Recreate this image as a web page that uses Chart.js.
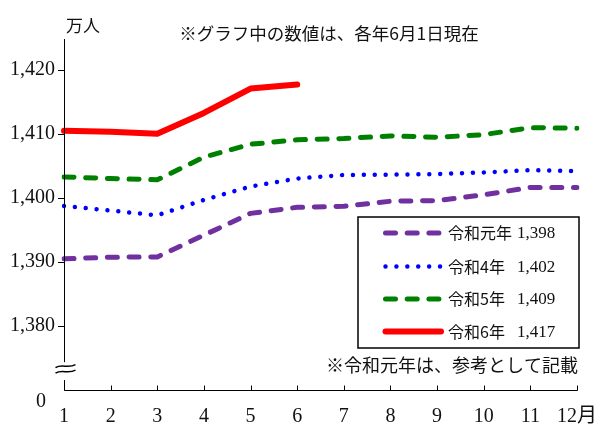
<!DOCTYPE html>
<html><head><meta charset="utf-8">
<script src="https://cdn.jsdelivr.net/npm/chart.js@4"></script>
<style>html,body{margin:0;padding:0;background:#fff}canvas{display:block}</style>
</head><body>
<canvas id="c" width="600" height="433"></canvas>
<script>
// ---- data ----
const months = ['1','2','3','4','5','6','7','8','9','10','11','12月'];
const seriesNames = ['令和元年','令和4年','令和5年','令和6年'];
const legendValues = ['1,398','1,402','1,409','1,417'];
const reiwa1 = [1390.5, 1390.75, 1390.8, 1394.2, 1397.6, 1398.55, 1398.7, 1399.5, 1399.6, 1400.5, 1401.65, 1401.65];
const reiwa4 = [1398.75, 1398.05, 1397.3, 1399.7, 1401.8, 1403.05, 1403.6, 1403.65, 1403.75, 1404.0, 1404.35, 1404.2];
const reiwa5 = [1403.3, 1403.05, 1402.85, 1406.4, 1408.4, 1409.1, 1409.3, 1409.7, 1409.5, 1409.9, 1411.0, 1410.9];
const reiwa6 = [1410.5, 1410.35, 1410.05, 1413.3, 1417.1, 1417.75];
const yTicks = [1380, 1390, 1400, 1410, 1420];
const yMin = 1370, yMax = 1424.85;
const breakFrom = 1371.55, breakTo = 1374.35;
const unitLabel = '万人';
const zeroLabel = '0';
const titleText = '※グラフ中の数値は、各年6月1日現在';
const noteText = '※令和元年は、参考として記載';

const CJK = '"Noto Sans CJK JP", sans-serif';
const SERIF = '"Liberation Serif", "Noto Sans CJK JP", serif';

const decor = {
  id: 'decor',
  afterDraw(chart) {
    const {ctx, chartArea: a, scales: {x, y}} = chart;
    ctx.save();
    ctx.strokeStyle = '#000';
    ctx.lineWidth = 1;
    const ax = Math.round(a.left) + 0.5;
    const by = Math.round(a.bottom) + 0.5;
    const gTop = y.getPixelForValue(breakTo);
    const gBot = y.getPixelForValue(breakFrom);
    // y axis with break
    ctx.beginPath();
    ctx.moveTo(ax, a.top); ctx.lineTo(ax, gTop);
    ctx.moveTo(ax, gBot); ctx.lineTo(ax, by);
    // x axis
    ctx.moveTo(ax, by); ctx.lineTo(Math.round(a.right) + 0.5, by);
    ctx.stroke();
    // x ticks (inside, upward)
    ctx.beginPath();
    months.forEach((m, i) => {
      const px = Math.round(x.getPixelForValue(i)) + 0.5;
      ctx.moveTo(px, by); ctx.lineTo(px, by - 5);
    });
    ctx.stroke();
    // break symbol
    ctx.lineWidth = 1.5;
    [gTop + 4, gTop + 9.5].forEach(yc => {
      ctx.beginPath();
      ctx.moveTo(ax - 9, yc + 1.5);
      ctx.bezierCurveTo(ax - 3, yc - 2.5, ax + 4, yc + 2.5, ax + 11, yc - 1.5);
      ctx.stroke();
    });
    // texts
    ctx.fillStyle = '#111';
    ctx.textBaseline = 'middle';
    ctx.font = '20px ' + SERIF;
    ctx.textAlign = 'center';
    ctx.fillText(zeroLabel, 41, a.bottom + 12);
    ctx.font = '17px ' + CJK;
    ctx.textAlign = 'left';
    ctx.fillText(unitLabel, 66, 26);
    ctx.font = '17.5px ' + CJK;
    ctx.textAlign = 'center';
    ctx.fillText(titleText, 329, 33);
    ctx.font = '18px ' + CJK;
    ctx.textAlign = 'right';
    ctx.fillText(noteText, 578, 365);
    // legend
    ctx.lineWidth = 1.5;
    ctx.strokeStyle = '#000';
    ctx.strokeRect(358, 217, 221, 131);
    const rows = [233, 266.5, 299, 331.5];
    chart.data.datasets.forEach((ds, i) => {
      const ry = rows[i];
      ctx.save();
      ctx.strokeStyle = ds.borderColor;
      ctx.lineWidth = ds.borderWidth;
      ctx.setLineDash(ds.borderDash || []);
      ctx.lineCap = 'round';
      ctx.beginPath();
      ctx.moveTo(385.5, ry); ctx.lineTo(441, ry);
      ctx.stroke();
      ctx.restore();
      ctx.fillStyle = '#111';
      ctx.textAlign = 'left';
      ctx.font = '16px ' + CJK;
      ctx.fillText(seriesNames[i], 448, ry);
      ctx.font = '17px ' + SERIF;
      ctx.fillText(legendValues[i], 517, ry + 1);
    });
    ctx.restore();
  }
};

new Chart(document.getElementById('c').getContext('2d'), {
  type: 'line',
  data: {
    labels: months,
    datasets: [
      {label: seriesNames[0], data: reiwa1, borderColor: '#7030a0', borderWidth: 5, borderDash: [10, 11.7]},
      {label: seriesNames[1], data: reiwa4, borderColor: '#0000ff', borderWidth: 4.5, borderDash: [0.01, 10.9]},
      {label: seriesNames[2], data: reiwa5, borderColor: '#008000', borderWidth: 5, borderDash: [10, 11.7]},
      {label: seriesNames[3], data: reiwa6, borderColor: '#ff0000', borderWidth: 6}
    ]
  },
  options: {
    responsive: false,
    animation: false,
    devicePixelRatio: 1,
    layout: {padding: {top: 39, left: 0, right: 23, bottom: 0}},
    elements: {
      point: {radius: 0, hoverRadius: 0},
      line: {tension: 0, borderCapStyle: 'round', borderJoinStyle: 'round', fill: false}
    },
    plugins: {legend: {display: false}, tooltip: {enabled: false}, title: {display: false}},
    scales: {
      x: {
        type: 'category', offset: false,
        grid: {display: false, drawTicks: false},
        border: {display: false},
        ticks: {autoSkip: false, maxRotation: 0, minRotation: 0, padding: 15, color: '#111', font: {family: SERIF, size: 20}},
        afterFit(s) { s.height = 43; s.paddingLeft = 0; s.paddingRight = 0; }
      },
      y: {
        min: yMin, max: yMax,
        grid: {drawOnChartArea: false, drawTicks: true, tickLength: 6, color: '#000', lineWidth: 1},
        border: {display: false},
        afterBuildTicks(s) { s.ticks = yTicks.map(v => ({value: v})); },
        ticks: {padding: 3, color: '#111', font: {family: SERIF, size: 20}, callback: v => v.toLocaleString('en-US')},
        afterFit(s) { s.width = 64; s.paddingTop = 0; s.paddingBottom = 0; }
      }
    }
  },
  plugins: [decor]
});
</script>
</body></html>
